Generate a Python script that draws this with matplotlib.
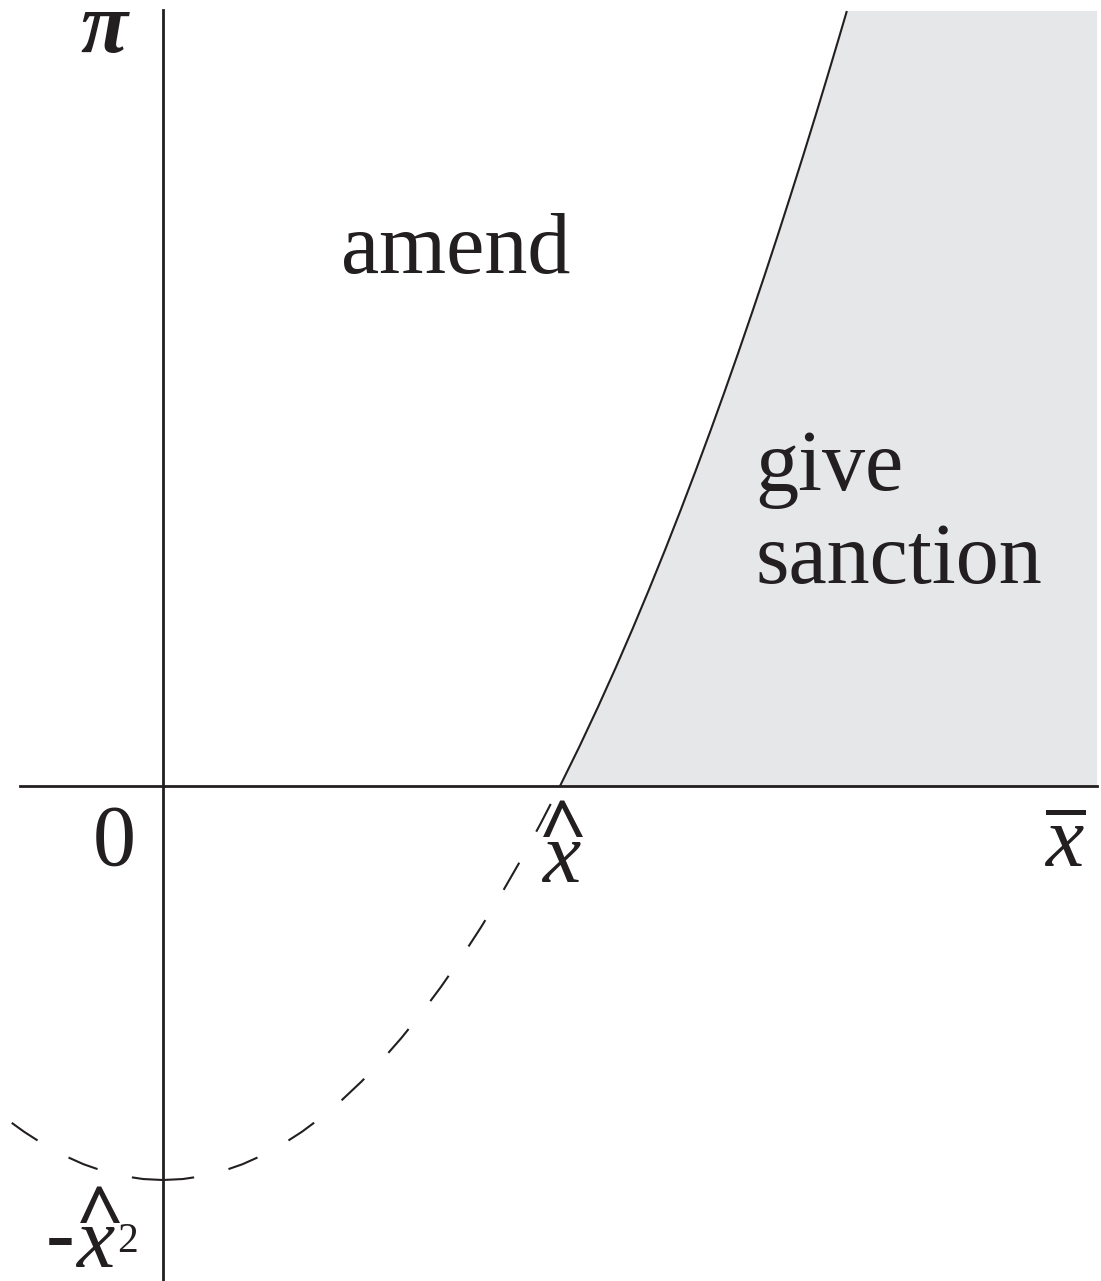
import matplotlib
matplotlib.use("Agg")
import matplotlib.pyplot as plt

plt.rcParams['font.family'] = ['Liberation Serif', 'DejaVu Serif']
plt.rcParams['mathtext.fontset'] = 'custom'
plt.rcParams['mathtext.rm'] = 'Liberation Serif'
plt.rcParams['mathtext.it'] = 'Liberation Serif:italic'

# threshold curve, in units where x-hat = 1
x_left = [0.0, -0.05, -0.1, -0.15, -0.2, -0.25, -0.3, -0.35, -0.385]
pi_left = [-1.0, -0.9975, -0.99, -0.9775, -0.96, -0.9375, -0.91, -0.8775, -0.852]
x_mid = [0.0, 0.05, 0.1, 0.15, 0.2, 0.25, 0.3, 0.35, 0.4, 0.45, 0.5,
         0.55, 0.6, 0.65, 0.7, 0.75, 0.8, 0.85, 0.9, 0.95, 1.0]
pi_mid = [-1.0, -0.9975, -0.99, -0.9775, -0.96, -0.9375, -0.91, -0.8775, -0.84, -0.7975, -0.75,
          -0.6975, -0.64, -0.5775, -0.51, -0.4375, -0.36, -0.2775, -0.19, -0.0975, 0.0]
x_top = [1.0, 1.0488, 1.0954, 1.1402, 1.1832, 1.2247, 1.2649, 1.3038, 1.3416, 1.3784, 1.4142,
         1.4491, 1.4832, 1.5166, 1.5492, 1.5811, 1.6125, 1.6432, 1.6733, 1.7029, 1.7225]
pi_top = [0.0, 0.1, 0.2, 0.3, 0.4, 0.5, 0.6, 0.7, 0.8, 0.9, 1.0,
          1.1, 1.2, 1.3, 1.4, 1.5, 1.6, 1.7, 1.8, 1.9, 1.967]
x_max = 2.353

ink = '#231f20'

fig = plt.figure(figsize=(11.01, 12.81), dpi=100)
ax = fig.add_axes([0, 0, 1, 1])
ax.set_xlim(-0.4106, 2.3627)
ax.set_ylim(-1.2563, 1.995)
ax.axis('off')

# shaded region to the right of the curve
ax.fill(x_top + [x_max, x_max], pi_top + [pi_top[-1], 0.0], color='#e6e7e9', lw=0)

# axes
ax.plot([-0.36, x_max], [0, 0], color=ink, lw=2)
ax.plot([0, 0], [1.97, -1.26], color=ink, lw=2)

ax.plot(x_top, pi_top, color=ink, lw=1.5, solid_capstyle='butt')
ax.plot(x_left, pi_left, color=ink, lw=1.5, dashes=(15, 17))
ax.plot(x_mid, pi_mid, color=ink, lw=1.5, dashes=(15, 17))

fs = 62
hat = dict(fontsize=58, color=ink, ha='center', va='center', family=['Noto Sans'],
           weight='light')

ax.text(-0.1486, 1.863, 'π', fontsize=fs, color=ink, ha='center', va='baseline',
        style='italic', weight='bold')
ax.text(-0.1222, -0.2005, '0', fontsize=fs, color=ink, ha='center', va='baseline')

# x-hat under the axis
ax.text(1.0025, -0.2437, 'x', fontsize=fs, color=ink, ha='center', va='baseline', style='italic')
ax.text(1.008, -0.132, '^', **hat)

# x-bar at the right end
ax.text(2.272, -0.2056, r'$\overline{x}$', fontsize=fs, color=ink, ha='center', va='baseline')

# -x-hat squared at the vertex
ax.text(-0.2594, -1.2081, '-', fontsize=fs, color=ink, ha='center', va='baseline')
ax.text(-0.1713, -1.2208, 'x', fontsize=fs, color=ink, ha='center', va='baseline', style='italic')
ax.text(-0.1587, -1.1104, '^', **hat)
ax.text(-0.0882, -1.1827, '2', fontsize=30, color=ink, ha='center', va='baseline')

ax.text(0.7368, 1.302, 'amend', fontsize=fs, color=ink, ha='center', va='baseline')
ax.text(1.493, 0.7513, 'give', fontsize=fs, color=ink, ha='left', va='baseline')
ax.text(1.493, 0.5152, 'sanction', fontsize=fs, color=ink, ha='left', va='baseline')

fig.savefig('out.png', dpi=100)
